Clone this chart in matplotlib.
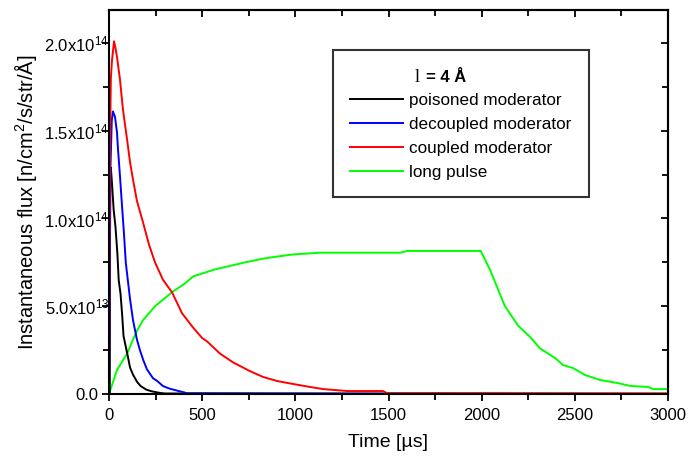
import matplotlib
matplotlib.use("Agg")
import matplotlib.pyplot as plt
from matplotlib.lines import Line2D
from matplotlib.legend_handler import HandlerLine2D
from matplotlib.transforms import ScaledTranslation
import numpy as np

plt.rcParams['font.family'] = ['Liberation Sans', 'DejaVu Sans']
plt.rcParams['mathtext.fontset'] = 'custom'
plt.rcParams['mathtext.rm'] = 'Liberation Sans'
plt.rcParams['mathtext.it'] = 'Liberation Sans:italic'
plt.rcParams['mathtext.bf'] = 'Liberation Sans:bold'

# Data (time in microseconds, flux in units of 1e14 n/cm^2/s/str/A)
poisoned_t = [0, 4, 6, 10, 16, 25, 35, 45, 52, 62, 70, 78, 90, 100, 113, 129, 150, 170, 200, 230, 274, 300, 3000]
poisoned_f = [0, 0.0, 1.2, 1.29, 1.2, 1.05, 0.95, 0.8, 0.65, 0.57, 0.46, 0.33, 0.27, 0.22, 0.15, 0.11, 0.07, 0.045, 0.025, 0.015, 0.006, 0.003, 0.0]

decoupled_t = [0, 3, 8, 15, 21, 32, 43, 48, 59, 70, 80, 90, 102, 113, 129, 150, 166, 185, 204, 236, 258, 290, 327, 370, 400, 420, 3000]
decoupled_f = [0, 0.5, 1.3, 1.56, 1.61, 1.58, 1.49, 1.4, 1.24, 1.07, 0.92, 0.75, 0.64, 0.54, 0.42, 0.31, 0.25, 0.19, 0.14, 0.09, 0.075, 0.045, 0.03, 0.018, 0.01, 0.004, 0.0]

coupled_t = [0, 2, 5, 10, 16, 27, 35, 43, 59, 75, 97, 113, 129, 150, 182, 215, 247, 290, 338, 392, 450, 499, 526, 596, 666, 757, 827, 902, 988, 1079, 1149, 1277, 1470, 1492, 3000]
coupled_f = [0, 0.8, 1.4, 1.8, 1.9, 2.01, 1.97, 1.92, 1.79, 1.62, 1.45, 1.32, 1.22, 1.1, 0.98, 0.85, 0.75, 0.65, 0.58, 0.46, 0.38, 0.32, 0.30, 0.23, 0.18, 0.13, 0.097, 0.074, 0.057, 0.04, 0.028, 0.017, 0.017, 0.005, 0.004]

longpulse_t = [0, 43, 97, 129, 150, 182, 247, 338, 408, 451, 569, 730, 821, 880, 987, 1132, 1562, 1600, 1995, 2045, 2125, 2195, 2260, 2313, 2394, 2437, 2490, 2555, 2635, 2727, 2797, 2893, 2920, 3000]
longpulse_f = [0, 0.137, 0.23, 0.31, 0.36, 0.42, 0.50, 0.58, 0.63, 0.67, 0.71, 0.75, 0.77, 0.78, 0.795, 0.805, 0.805, 0.815, 0.815, 0.707, 0.50, 0.39, 0.325, 0.26, 0.205, 0.165, 0.148, 0.108, 0.08, 0.063, 0.046, 0.04, 0.028, 0.028]

series_labels = ["poisoned moderator", "decoupled moderator", "coupled moderator", "long pulse"]
series_colors = ["#000000", "#0000ff", "#ff0000", "#00ff00"]

ytick_vals = [0.0, 0.5e14, 1.0e14, 1.5e14, 2.0e14]
ytick_labels = ["0.0", "5.0x10$^{13}$", "1.0x10$^{14}$", "1.5x10$^{14}$", "2.0x10$^{14}$"]
xtick_vals = [0, 500, 1000, 1500, 2000, 2500, 3000]


class OffsetLineHandler(HandlerLine2D):
    def __init__(self, offset_frac=0.0, **kw):
        super().__init__(**kw)
        self.offset_frac = offset_frac

    def create_artists(self, legend, orig_handle, xdescent, ydescent,
                       width, height, fontsize, trans):
        arts = super().create_artists(legend, orig_handle, xdescent, ydescent,
                                      width, height, fontsize, trans)
        for a in arts:
            xd = list(a.get_xdata())
            if len(xd) == 2:
                a.set_xdata([xd[0] + self.offset_frac * width, xd[1]])
        return arts


fig = plt.figure(figsize=(6.9, 4.61), dpi=100)
ax = fig.add_axes([109/690, 67/461, 559/690, 384/461])

data = [(poisoned_t, poisoned_f), (decoupled_t, decoupled_f), (coupled_t, coupled_f), (longpulse_t, longpulse_f)]
order = [3, 0, 1, 2]
handles = {}
for i in order:
    t, f = data[i]
    ln, = ax.plot(t, np.array(f) * 1e14, color=series_colors[i], lw=1.4, label=series_labels[i])
    handles[i] = ln

ax.set_xlim(0, 3000)
ax.set_ylim(0, 2.188e14)
ax.set_xticks(xtick_vals)
ax.set_xticks(np.arange(0, 3001, 250), minor=True)
ax.set_yticks(ytick_vals)
ax.set_yticklabels(ytick_labels)
ax.set_yticks(np.arange(0, 2.2e14, 0.25e14), minor=True)

for s in ax.spines.values():
    s.set_linewidth(1.5)

ax.tick_params(axis='both', which='both', labelsize=12, width=1.3)
ax.tick_params(axis='both', which='major', length=5)
ax.tick_params(axis='both', which='minor', length=4)
ax.tick_params(axis='x', which='both', direction='out', top=False, pad=5)
ax.tick_params(axis='y', which='both', direction='out', right=False, pad=-5)

# inward ticks on top and right
secx = ax.secondary_xaxis('top')
secx.set_xticks(xtick_vals)
secx.set_xticks(np.arange(0, 3001, 250), minor=True)
secx.tick_params(which='both', direction='in', labeltop=False, width=1.3)
secx.tick_params(which='major', length=5)
secx.tick_params(which='minor', length=4)
secx.spines['top'].set_linewidth(1.5)
secy = ax.secondary_yaxis('right')
secy.set_yticks(ytick_vals)
secy.set_yticks(np.arange(0, 2.2e14, 0.25e14), minor=True)
secy.tick_params(which='both', direction='in', labelright=False, width=1.3)
secy.tick_params(which='major', length=5)
secy.tick_params(which='minor', length=4)
secy.spines['right'].set_linewidth(1.5)

ax.set_xlabel("Time [\u00b5s]", fontsize=14, labelpad=8)
ax.set_ylabel("Instantaneous flux [n/cm$^{2}$/s/str/\u00c5]", fontsize=14.5, labelpad=3.5)

leg = ax.legend([handles[i] for i in range(4)], series_labels,
                loc='upper left', bbox_to_anchor=((333-109)/559, (394-50)/384),
                frameon=True, fancybox=False, edgecolor='black', fontsize=12.3,
                handlelength=3.1, handletextpad=0.36, labelspacing=0.52,
                borderpad=1.0, borderaxespad=0,
                handler_map={Line2D: OffsetLineHandler(offset_frac=0.19)},
                title="\u00a0", title_fontsize=14)
leg.get_frame().set_linewidth(1.5)

# legend title: lambda (drawn as 'l' in the original) = 4 Å
fig.text(415/690, 1 - 78/461, "l", fontsize=13, family='Liberation Serif', va='center', ha='left')
fig.text(426/690, 1 - 78/461, "= 4 \u00c5", fontsize=12, fontweight='bold', va='center', ha='left')

# the "0.0" label has no exponent; keep it clear of the tick mark
zero_lbl = ax.yaxis.get_major_ticks()[0].label1
zero_lbl.set_transform(zero_lbl.get_transform() + ScaledTranslation(-0.11, 0, fig.dpi_scale_trans))

fig.savefig("out.png", dpi=100)
